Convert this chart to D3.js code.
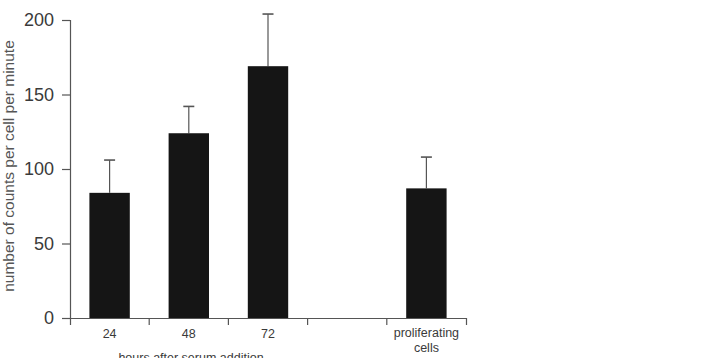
<!DOCTYPE html>
<html>
<head>
<meta charset="utf-8">
<script src="https://cdn.jsdelivr.net/npm/d3@7"></script>
<style>
  body { margin: 0; background: #fff; }
  svg { font-family: 'Liberation Sans', Arial, sans-serif; }
</style>
</head>
<body>
<div id="chart"></div>
<script>
// categories on the x axis (the empty one is the gap before the control)
const categories = ['24', '48', '72', '', 'proliferating cells'];
// mean counts per cell per minute
const means = [84, 124, 169, null, 87];
// upper error bar length
const errors = [22, 18, 35, null, 21];
const yTicks = [0, 50, 100, 150, 200];

const width = 717, height = 358;
const margin = { top: 20, right: 251, bottom: 40, left: 70 };

const svg = d3.select('#chart').append('svg')
  .attr('width', width)
  .attr('height', height);

const x = d3.scaleBand()
  .domain(categories)
  .range([margin.left, width - margin.right])
  .paddingInner(0)
  .paddingOuter(0);

const y = d3.scaleLinear()
  .domain([0, 200])
  .range([height - margin.bottom, margin.top]);

const data = categories.map((c, i) => ({ cat: c, mean: means[i], err: errors[i] }))
  .filter(d => d.mean != null);

const barW = x.bandwidth() * 0.51;

// error bars (upper only)
const err = svg.append('g').attr('stroke', '#555').attr('stroke-width', 1.2);
err.selectAll('.stem')
  .data(data)
  .join('line')
  .attr('x1', d => x(d.cat) + x.bandwidth() / 2)
  .attr('x2', d => x(d.cat) + x.bandwidth() / 2)
  .attr('y1', d => y(d.mean))
  .attr('y2', d => y(d.mean + d.err));
err.selectAll('.cap')
  .data(data)
  .join('line')
  .attr('x1', d => x(d.cat) + x.bandwidth() / 2 - 5.5)
  .attr('x2', d => x(d.cat) + x.bandwidth() / 2 + 5.5)
  .attr('y1', d => y(d.mean + d.err))
  .attr('y2', d => y(d.mean + d.err))
  .attr('stroke-width', 1.6);

// bars
svg.append('g').selectAll('rect')
  .data(data)
  .join('rect')
  .attr('x', d => x(d.cat) + (x.bandwidth() - barW) / 2)
  .attr('y', d => y(d.mean))
  .attr('width', barW)
  .attr('height', d => y(0) - y(d.mean))
  .attr('fill', '#151515');

// y axis
const yAxis = svg.append('g')
  .attr('transform', `translate(${margin.left},0)`)
  .call(d3.axisLeft(y).tickValues(yTicks).tickSize(8).tickPadding(8));
yAxis.selectAll('path, line').attr('stroke', '#555').attr('stroke-width', 1.2);
yAxis.selectAll('text')
  .attr('font-size', 18)
  .attr('font-family', "'Liberation Sans', Arial, sans-serif")
  .attr('fill', '#3a3a3a');

// x axis: labels centred in bands, ticks on band edges
const xAxis = svg.append('g')
  .attr('transform', `translate(0,${y(0)})`)
  .call(d3.axisBottom(x).tickSizeInner(0).tickSizeOuter(7).tickPadding(11));
xAxis.selectAll('path').attr('stroke', '#555').attr('stroke-width', 1.2);
xAxis.selectAll('.tick line').remove();
xAxis.selectAll('.tick text')
  .attr('font-size', 12.5)
  .attr('font-family', "'Liberation Sans', Arial, sans-serif")
  .attr('fill', '#3a3a3a')
  .each(function (d) {
    const words = d.split(' ');
    if (words.length > 1) {
      const t = d3.select(this).text(null).attr('dy', null).attr('y', 19);
      words.forEach((w, i) => {
        t.append('tspan').attr('x', 0).attr('dy', i === 0 ? 0 : 15).text(w);
      });
    }
  });
xAxis.selectAll('.edge')
  .data(categories.slice(1))
  .join('line')
  .attr('class', 'edge')
  .attr('x1', d => x(d))
  .attr('x2', d => x(d))
  .attr('y1', 0)
  .attr('y2', 7)
  .attr('stroke', '#555')
  .attr('stroke-width', 1.2);

// axis titles
svg.append('text')
  .attr('transform', `translate(14,166) rotate(-90)`)
  .attr('text-anchor', 'middle')
  .attr('font-size', 15.5)
  .attr('fill', '#555')
  .text('number of counts per cell per minute');

svg.append('text')
  .attr('x', 191)
  .attr('y', 362)
  .attr('text-anchor', 'middle')
  .attr('font-size', 12.5)
  .attr('fill', '#3a3a3a')
  .text('hours after serum addition');
</script>
</body>
</html>
